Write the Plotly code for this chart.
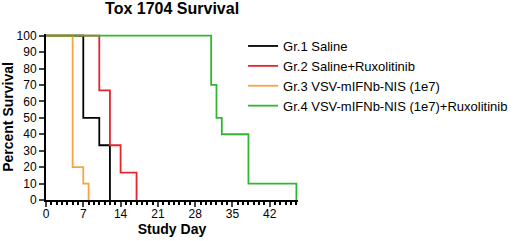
import plotly.graph_objects as go

# Data (Kaplan-Meier step curves: day, percent survival)
g1_days = [0, 7, 10, 12, 12]
g1_surv = [100, 50, 33.3, 0, 0]
g2_days = [0, 10, 12, 14, 17, 17]
g2_surv = [100, 66.7, 33.3, 16.7, 0, 0]
g3_days = [0, 5, 7, 8, 8]
g3_surv = [100, 20, 10, 0, 0]
g4_days = [0, 31, 32, 33, 38, 47, 47]
g4_surv = [100, 70, 50, 40, 10, 10, 0]

names = ["Gr.1 Saline", "Gr.2 Saline+Ruxolitinib",
         "Gr.3 VSV-mIFNb-NIS (1e7)", "Gr.4 VSV-mIFNb-NIS (1e7)+Ruxolitinib"]
colors = ["#000000", "#e3262b", "#f5a542", "#2fb82f"]
x_ticks = [0, 7, 14, 21, 28, 35, 42]
y_ticks = [0, 10, 20, 30, 40, 50, 60, 70, 80, 90, 100]

series = [(g1_days, g1_surv), (g2_days, g2_surv), (g3_days, g3_surv), (g4_days, g4_surv)]

fig = go.Figure()
for i in range(4):
    d, s = series[i]
    fig.add_trace(go.Scatter(x=d, y=s, mode="lines", name=names[i],
                             line=dict(color=colors[i], width=1.8, shape="hv")))

fig.update_layout(
    width=520, height=241,
    margin=dict(l=46, r=222, t=34, b=41, autoexpand=False),
    paper_bgcolor="white", plot_bgcolor="white",
    font=dict(family="Liberation Sans, Arial", color="black"),
    title=dict(text="<b>Tox 1704 Survival</b>", x=0.331, xanchor="center",
               y=0.965, yanchor="middle", font=dict(size=16)),
    showlegend=True,
    legend=dict(x=0.782, y=1.018, xanchor="left", yanchor="top",
                font=dict(size=13, family="Liberation Sans, Arial"),
                bgcolor="rgba(0,0,0,0)", tracegroupgap=0),
)
fig.update_xaxes(range=[0, 47.3], tickvals=x_ticks, ticks="outside", ticklen=5,
                 tickwidth=2, showline=True, linewidth=2, linecolor="black",
                 showgrid=False, zeroline=False, automargin=False,
                 tickfont=dict(size=12, family="Liberation Sans, Arial"),
                 ticklabelstandoff=-3,
                 minor=dict(dtick=1, ticks="outside", ticklen=3, tickwidth=1.5, tickcolor="black"),
                 title=dict(text="<b>Study Day</b>", font=dict(size=14), standoff=0))
fig.update_yaxes(range=[0, 101], tickvals=y_ticks, ticks="outside", ticklen=5,
                 tickwidth=2, showline=True, linewidth=2, linecolor="black",
                 showgrid=False, zeroline=False, automargin=False,
                 tickfont=dict(size=12, family="Liberation Sans, Arial"),
                 title=dict(text="<b>Percent Survival</b>", font=dict(size=14), standoff=2))
fig.update_xaxes(tickprefix="<b>", ticksuffix="</b>")
fig.update_yaxes(tickprefix="<b>", ticksuffix="</b>")
fig.write_html("out.html", config={"displayModeBar": False},
               post_script="document.body.style.margin='0';")
